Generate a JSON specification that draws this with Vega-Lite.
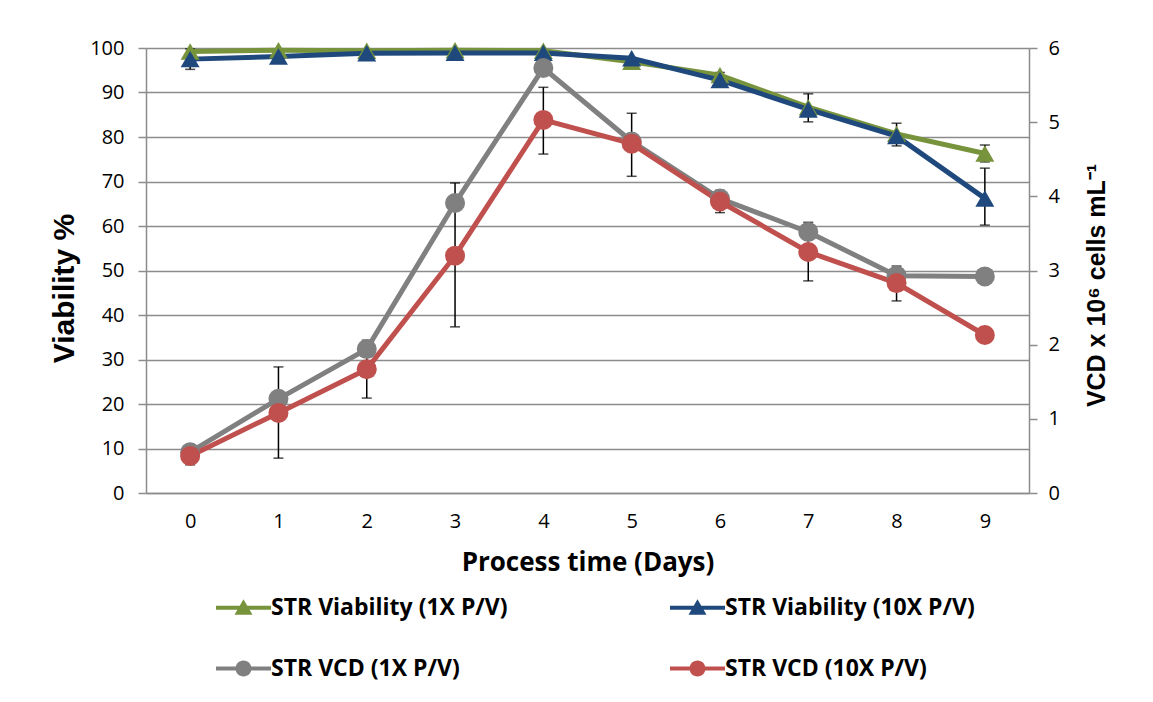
{
  "$schema": "https://vega.github.io/schema/vega-lite/v6.json",
  "width": 883,
  "height": 445,
  "autosize": "none",
  "padding": {"left": 146, "top": 48, "right": 124, "bottom": 209},
  "background": "white",
  "datasets": {
    "pts": [
      {"day": 0, "kind": "via", "series": "STR Viability (1X P/V)", "v": 99.2},
      {"day": 1, "kind": "via", "series": "STR Viability (1X P/V)", "v": 99.5},
      {"day": 2, "kind": "via", "series": "STR Viability (1X P/V)", "v": 99.4},
      {"day": 3, "kind": "via", "series": "STR Viability (1X P/V)", "v": 99.5},
      {"day": 4, "kind": "via", "series": "STR Viability (1X P/V)", "v": 99.4},
      {"day": 5, "kind": "via", "series": "STR Viability (1X P/V)", "v": 96.9},
      {"day": 6, "kind": "via", "series": "STR Viability (1X P/V)", "v": 93.9},
      {"day": 7, "kind": "via", "series": "STR Viability (1X P/V)", "v": 86.7},
      {"day": 8, "kind": "via", "series": "STR Viability (1X P/V)", "v": 80.7},
      {"day": 9, "kind": "via", "series": "STR Viability (1X P/V)", "v": 76.3},
      {"day": 0, "kind": "via", "series": "STR Viability (10X P/V)", "v": 97.5},
      {"day": 1, "kind": "via", "series": "STR Viability (10X P/V)", "v": 98.1},
      {"day": 2, "kind": "via", "series": "STR Viability (10X P/V)", "v": 98.8},
      {"day": 3, "kind": "via", "series": "STR Viability (10X P/V)", "v": 98.9},
      {"day": 4, "kind": "via", "series": "STR Viability (10X P/V)", "v": 98.9},
      {"day": 5, "kind": "via", "series": "STR Viability (10X P/V)", "v": 97.7},
      {"day": 6, "kind": "via", "series": "STR Viability (10X P/V)", "v": 92.8},
      {"day": 7, "kind": "via", "series": "STR Viability (10X P/V)", "v": 86.2},
      {"day": 8, "kind": "via", "series": "STR Viability (10X P/V)", "v": 80.2},
      {"day": 9, "kind": "via", "series": "STR Viability (10X P/V)", "v": 66.2},
      {"day": 0, "kind": "vcd", "series": "STR VCD (1X P/V)", "v": 0.55},
      {"day": 1, "kind": "vcd", "series": "STR VCD (1X P/V)", "v": 1.27},
      {"day": 2, "kind": "vcd", "series": "STR VCD (1X P/V)", "v": 1.94},
      {"day": 3, "kind": "vcd", "series": "STR VCD (1X P/V)", "v": 3.91},
      {"day": 4, "kind": "vcd", "series": "STR VCD (1X P/V)", "v": 5.73},
      {"day": 5, "kind": "vcd", "series": "STR VCD (1X P/V)", "v": 4.74},
      {"day": 6, "kind": "vcd", "series": "STR VCD (1X P/V)", "v": 3.97},
      {"day": 7, "kind": "vcd", "series": "STR VCD (1X P/V)", "v": 3.52},
      {"day": 8, "kind": "vcd", "series": "STR VCD (1X P/V)", "v": 2.93},
      {"day": 9, "kind": "vcd", "series": "STR VCD (1X P/V)", "v": 2.92},
      {"day": 0, "kind": "vcd", "series": "STR VCD (10X P/V)", "v": 0.50},
      {"day": 1, "kind": "vcd", "series": "STR VCD (10X P/V)", "v": 1.08},
      {"day": 2, "kind": "vcd", "series": "STR VCD (10X P/V)", "v": 1.67},
      {"day": 3, "kind": "vcd", "series": "STR VCD (10X P/V)", "v": 3.20},
      {"day": 4, "kind": "vcd", "series": "STR VCD (10X P/V)", "v": 5.03},
      {"day": 5, "kind": "vcd", "series": "STR VCD (10X P/V)", "v": 4.71},
      {"day": 6, "kind": "vcd", "series": "STR VCD (10X P/V)", "v": 3.93},
      {"day": 7, "kind": "vcd", "series": "STR VCD (10X P/V)", "v": 3.25},
      {"day": 8, "kind": "vcd", "series": "STR VCD (10X P/V)", "v": 2.83},
      {"day": 9, "kind": "vcd", "series": "STR VCD (10X P/V)", "v": 2.13}
    ],
    "err": [
      {"day": 0, "kind": "via", "lo": 95.2, "hi": 99.8},
      {"day": 6, "kind": "via", "lo": 93.3, "hi": 94.5},
      {"day": 7, "kind": "via", "lo": 83.4, "hi": 89.7},
      {"day": 8, "kind": "via", "lo": 78.0, "hi": 83.1},
      {"day": 9, "kind": "via", "lo": 60.2, "hi": 73.0},
      {"day": 9, "kind": "via", "lo": 74.4, "hi": 78.2},
      {"day": 0, "kind": "vcd", "lo": 0.38, "hi": 0.62},
      {"day": 1, "kind": "vcd", "lo": 0.47, "hi": 1.70},
      {"day": 2, "kind": "vcd", "lo": 1.28, "hi": 2.06},
      {"day": 3, "kind": "vcd", "lo": 2.24, "hi": 4.18},
      {"day": 4, "kind": "vcd", "lo": 4.57, "hi": 5.47},
      {"day": 5, "kind": "vcd", "lo": 4.27, "hi": 5.12},
      {"day": 6, "kind": "vcd", "lo": 3.78, "hi": 4.08},
      {"day": 7, "kind": "vcd", "lo": 2.86, "hi": 3.65},
      {"day": 8, "kind": "vcd", "lo": 2.59, "hi": 3.06}
    ]
  },
  "encoding": {
    "x": {
      "field": "day", "type": "ordinal",
      "scale": {"type": "point", "padding": 0.5},
      "axis": {"title": "Process time (Days)", "labelAngle": 0, "ticks": false, "labelPadding": 18, "titlePadding": 18, "titleFontSize": 26, "titleFont": "Open Sans", "titleFontWeight": "bold", "grid": false}
    },
    "color": {
      "field": "series", "type": "nominal",
      "scale": {
        "domain": ["STR Viability (1X P/V)", "STR VCD (1X P/V)", "STR Viability (10X P/V)", "STR VCD (10X P/V)"],
        "range": ["#77933C", "#808080", "#1F497D", "#C0504D"]
      },
      "legend": {
        "orient": "none", "legendX": 86, "legendY": 548, "columns": 2, "title": null,
        "symbolSize": 100, "symbolStrokeWidth": 0, "labelOffset": 16, "columnPadding": 162, "rowPadding": 37,
        "labelFont": "Open Sans", "labelFontSize": 23, "labelFontWeight": "bold", "labelColor": "black", "labelLimit": 400,
        "encode": {
          "symbols": {
            "update": {
              "shape": {"signal": "indexof(datum.value, 'Viability') >= 0 ? 'M-5.5,-0.4H5.5V0.4H-5.5Z M0,-1.7L1.8,1.4L-1.8,1.4Z' : 'M-5.5,-0.4H5.5V0.4H-5.5Z M-1.6,0A1.6,1.6,0,0,1,1.6,0A1.6,1.6,0,0,1,-1.6,0Z'"},
              "fill": {"scale": "color", "field": "value"},
              "stroke": {"value": "transparent"},
              "opacity": {"value": 1}
            }
          }
        }
      }
    }
  },
  "layer": [
    {
      "layer": [
        {
          "data": {"name": "err"},
          "transform": [{"filter": "datum.kind === 'via'"}],
          "mark": {"type": "rule", "strokeWidth": 1.5},
          "encoding": {
            "y": {"field": "lo", "type": "quantitative", "title": "Viability %", "scale": {"domain": [0, 100], "nice": false}},
            "y2": {"field": "hi"},
            "color": {"value": "black"}
          }
        },
        {
          "data": {"name": "err"},
          "transform": [{"filter": "datum.kind === 'via'"}],
          "mark": {"type": "tick", "size": 10, "thickness": 1.5, "orient": "horizontal"},
          "encoding": {"y": {"field": "lo", "type": "quantitative", "title": "Viability %"}, "color": {"value": "black"}}
        },
        {
          "data": {"name": "err"},
          "transform": [{"filter": "datum.kind === 'via'"}],
          "mark": {"type": "tick", "size": 10, "thickness": 1.5, "orient": "horizontal"},
          "encoding": {"y": {"field": "hi", "type": "quantitative", "title": "Viability %"}, "color": {"value": "black"}}
        },
        {
          "data": {"name": "pts"},
          "transform": [{"filter": "datum.kind === 'via'"}],
          "mark": {"type": "line", "strokeWidth": 5},
          "encoding": {"y": {"field": "v", "type": "quantitative", "title": "Viability %"}}
        },
        {
          "data": {"name": "pts"},
          "transform": [{"filter": "datum.kind === 'via'"}],
          "mark": {"type": "point", "shape": "triangle-up", "filled": true, "size": 360, "opacity": 1},
          "encoding": {"y": {"field": "v", "type": "quantitative", "title": "Viability %"}}
        }
      ]
    },
    {
      "layer": [
        {
          "data": {"name": "err"},
          "transform": [{"filter": "datum.kind === 'vcd'"}],
          "mark": {"type": "rule", "strokeWidth": 1.5},
          "encoding": {
            "y": {"field": "lo", "type": "quantitative", "title": "VCD x 10⁶ cells mL⁻¹", "scale": {"domain": [0, 6], "nice": false},
              "axis": {"orient": "right", "grid": false, "tickCount": 6, "titleAngle": -90, "titleY": 237, "titleFont": "Liberation Sans", "titleFontSize": 25, "titleFontWeight": "bold", "titlePadding": 50, "labelPadding": 11}},
            "y2": {"field": "hi"},
            "color": {"value": "black"}
          }
        },
        {
          "data": {"name": "err"},
          "transform": [{"filter": "datum.kind === 'vcd'"}],
          "mark": {"type": "tick", "size": 10, "thickness": 1.5, "orient": "horizontal"},
          "encoding": {"y": {"field": "lo", "type": "quantitative", "title": "VCD x 10⁶ cells mL⁻¹"}, "color": {"value": "black"}}
        },
        {
          "data": {"name": "err"},
          "transform": [{"filter": "datum.kind === 'vcd'"}],
          "mark": {"type": "tick", "size": 10, "thickness": 1.5, "orient": "horizontal"},
          "encoding": {"y": {"field": "hi", "type": "quantitative", "title": "VCD x 10⁶ cells mL⁻¹"}, "color": {"value": "black"}}
        },
        {
          "data": {"name": "pts"},
          "transform": [{"filter": "datum.kind === 'vcd'"}],
          "mark": {"type": "line", "strokeWidth": 5},
          "encoding": {"y": {"field": "v", "type": "quantitative", "title": "VCD x 10⁶ cells mL⁻¹"}}
        },
        {
          "data": {"name": "pts"},
          "transform": [{"filter": "datum.kind === 'vcd'"}],
          "mark": {"type": "point", "shape": "circle", "filled": true, "size": 400, "opacity": 1},
          "encoding": {"y": {"field": "v", "type": "quantitative", "title": "VCD x 10⁶ cells mL⁻¹"}}
        }
      ]
    }
  ],
  "resolve": {"scale": {"y": "independent"}},
  "config": {
    "view": {"stroke": null},
    "axis": {
      "labelFont": "Open Sans", "labelFontSize": 20, "labelColor": "black",
      "titleColor": "black",
      "domainColor": "#8c8c8c", "domainWidth": 1.5,
      "tickColor": "#8c8c8c", "tickWidth": 1.5, "tickSize": 8,
      "gridColor": "#8c8c8c", "gridWidth": 1.5
    },
    "axisY": {"tickCount": 10, "labelPadding": 14},
    "axisLeft": {"titleFont": "Liberation Sans", "titleFontSize": 30, "titleFontWeight": "bold", "titlePadding": 10, "titleY": 240}
  }
}
